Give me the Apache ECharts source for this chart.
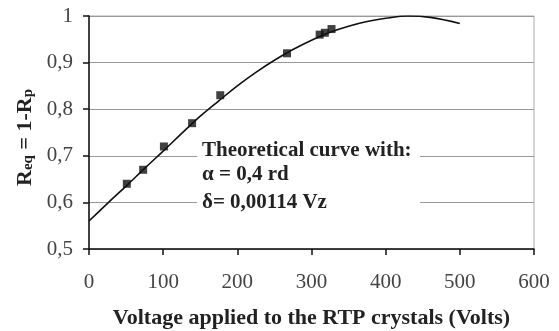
<!DOCTYPE html>
<html>
<head>
<meta charset="utf-8">
<script src="https://cdn.jsdelivr.net/npm/echarts@6/dist/echarts.min.js"></script>
<style>
  html, body { margin: 0; padding: 0; background: #fff; }
  #chart { width: 559px; height: 331px; }
</style>
</head>
<body>
<div id="chart"></div>
<script>
// theoretical curve
const curveX = [0, 25, 50, 75, 100, 125, 150, 175, 200, 225, 250, 275, 300, 325, 350, 375, 400, 430, 460, 500];
const curveY = [0.56, 0.598, 0.635, 0.673, 0.71, 0.748, 0.785, 0.818, 0.85, 0.879, 0.905, 0.928, 0.948, 0.965, 0.978, 0.988, 0.995, 1.0, 0.997, 0.984];

// measured points
const measX = [51, 73, 101, 139, 177, 267, 311, 318, 327];
const measY = [0.64, 0.67, 0.72, 0.77, 0.83, 0.92, 0.96, 0.964, 0.972];

const yTicks = ['0,5', '0,6', '0,7', '0,8', '0,9', '1'];

const serif = '"Liberation Serif", "DejaVu Serif", serif';

const chart = echarts.init(document.getElementById('chart'));
chart.setOption({
    animation: false,
    grid: {
        left: 89,
        right: 25,
        top: 16,
        bottom: 82,
        outerBoundsMode: 'none',
        containLabel: false,
        show: true,
        borderColor: '#aaa',
        borderWidth: 1
    },
    xAxis: {
        type: 'value',
        min: 0,
        max: 600,
        interval: 100,
        name: 'Voltage applied to the RTP crystals (Volts)',
        nameLocation: 'middle',
        nameGap: 58,
        nameTextStyle: {
            fontFamily: serif,
            fontWeight: 'bold',
            fontSize: 22,
            color: '#222'
        },
        axisLine: {lineStyle: {color: '#111', width: 1.5}},
        axisTick: {show: true, inside: false, length: 6, lineStyle: {color: '#111', width: 1.5}},
        axisLabel: {
            fontFamily: serif,
            fontSize: 21,
            color: '#444',
            margin: 23
        },
        splitLine: {show: false}
    },
    yAxis: {
        type: 'value',
        min: 0.5,
        max: 1,
        interval: 0.1,
        name: '{b|R}{s|eq}{b| = 1-R}{s|p}',
        nameLocation: 'middle',
        nameGap: 52,
        nameTextStyle: {
            padding: [0, 10, 0, 0],
            rich: {
                b: {fontFamily: serif, fontWeight: 'bold', fontSize: 22, color: '#222', lineHeight: 28, verticalAlign: 'bottom'},
                s: {fontFamily: serif, fontWeight: 'bold', fontSize: 15, color: '#222', lineHeight: 22, verticalAlign: 'bottom', padding: [6, 0, 0, 0]}
            }
        },
        axisLine: {show: true, lineStyle: {color: '#111', width: 1.5}},
        axisTick: {show: true, inside: false, length: 6, lineStyle: {color: '#111', width: 1.5}},
        axisLabel: {
            fontFamily: serif,
            fontSize: 21,
            color: '#444',
            margin: 16,
            formatter: (v) => yTicks[Math.round((v - 0.5) * 10)]
        },
        splitLine: {show: true, lineStyle: {color: '#999', width: 1}}
    },
    series: [
        {
            name: 'theory',
            type: 'line',
            data: curveX.map((x, i) => [x, curveY[i]]),
            smooth: 0.4,
            showSymbol: false,
            lineStyle: {color: '#111', width: 1.6},
            z: 3
        },
        {
            name: 'measured',
            type: 'scatter',
            data: measX.map((x, i) => [x, measY[i]]),
            symbol: 'rect',
            symbolSize: 8,
            itemStyle: {color: '#111'},
            z: 4
        }
    ],
    graphic: [
        {
            type: 'rect',
            shape: {x: 197, y: 134, width: 223, height: 82},
            style: {fill: '#fff'},
            z: 5
        },
        {
            type: 'text',
            x: 202, y: 140,
            style: {text: 'Theoretical curve with:', font: 'bold 21px ' + serif, fill: '#222'},
            z: 6
        },
        {
            type: 'text',
            x: 202, y: 164,
            style: {text: 'α = 0,4 rd', font: 'bold 21px ' + serif, fill: '#222'},
            z: 6
        },
        {
            type: 'text',
            x: 202, y: 192,
            style: {text: 'δ= 0,00114 Vz', font: 'bold 21px ' + serif, fill: '#222'},
            z: 6
        }
    ]
});
</script>
</body>
</html>
